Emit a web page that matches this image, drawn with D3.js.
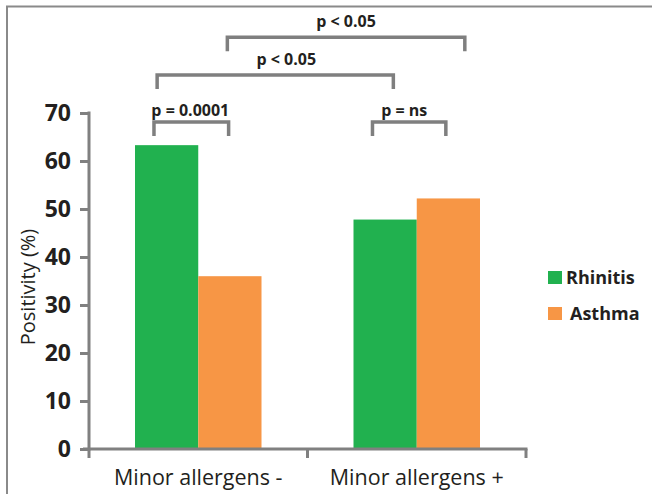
<!DOCTYPE html>
<html>
<head>
<meta charset="utf-8">
<script src="https://cdn.jsdelivr.net/npm/d3@7/dist/d3.min.js"></script>
<style>
  html, body { margin: 0; padding: 0; background: #fff; }
  svg { display: block; }
  text { font-family: "Open Sans", "Noto Sans", sans-serif; fill: #231f20; }
</style>
</head>
<body>
<svg id="chart" width="652" height="494"></svg>
<script>
// ---- data ----
const categories = ["Minor allergens -", "Minor allergens +"];
const seriesNames = ["Rhinitis", "Asthma"];
const rhinitis = [63.3, 47.8];
const asthma = [36.0, 52.2];
const yTicks = [0, 10, 20, 30, 40, 50, 60, 70];
const yLabel = "Positivity (%)";
// significance brackets: [category index, series index, fraction across bar]
const bracketLabels = ["p = 0.0001", "p = ns", "p < 0.05", "p < 0.05"];
const bracketFrom = [[0, 0, 0.3], [1, 0, 0.3], [0, 0, 0.35], [0, 1, 0.46]];
const bracketTo = [[0, 1, 0.48], [1, 1, 0.46], [1, 0, 0.63], [1, 1, 0.76]];
const bracketLevel = [68.1, 68.1, 77.9, 85.8];

const colors = { Rhinitis: "#21b14f", Asthma: "#f79645" };
const gray = "#808080";
const labelDx = [-1, -5, 11, 0];

const svg = d3.select("#chart");

// frame
svg.append("path")
  .attr("d", "M7,494 V6.5 H652")
  .attr("fill", "none").attr("stroke", "#8a8a8a").attr("stroke-width", 2);

const y = d3.scaleLinear().domain([0, 70]).range([449, 113]);
const x0 = d3.scaleBand().domain(categories).range([89, 526]).padding(0);
const x1 = d3.scaleBand().domain(seriesNames).range([46, x0.bandwidth() - 46]).padding(0);

const values = { Rhinitis: rhinitis, Asthma: asthma };

// bars
const g = svg.append("g");
categories.forEach((c, i) => {
  seriesNames.forEach(s => {
    const v = values[s][i];
    g.append("rect")
      .attr("x", x0(c) + x1(s))
      .attr("y", y(v))
      .attr("width", x1.bandwidth())
      .attr("height", y(0) - y(v))
      .attr("fill", colors[s]);
  });
});

// y axis
const yAxis = svg.append("g").attr("transform", "translate(89,0)")
  .call(d3.axisLeft(y).tickValues(yTicks).tickSize(9).tickSizeOuter(0).tickPadding(9));
yAxis.select(".domain").attr("stroke", gray).attr("stroke-width", 3)
  .attr("d", `M0,${y(70) - 1.5}V${y(0) + 1.5}`);
yAxis.selectAll(".tick line").attr("stroke", gray).attr("stroke-width", 3);
yAxis.selectAll(".tick text")
  .attr("font-size", 23).attr("font-weight", 700)
  .attr("fill", "#231f20").attr("font-family", "'Open Sans', sans-serif");

// x axis
const xAxisG = svg.append("g").attr("transform", `translate(0,${y(0)})`);
xAxisG.append("line")
  .attr("x1", 83).attr("x2", x0.range()[1] + 1.5)
  .attr("stroke", gray).attr("stroke-width", 3);
const boundaries = categories.map(c => x0(c)).concat([x0.range()[1]]);
xAxisG.selectAll("line.tk").data(boundaries).enter().append("line")
  .attr("class", "tk")
  .attr("x1", d => d).attr("x2", d => d)
  .attr("y1", 0).attr("y2", 9)
  .attr("stroke", gray).attr("stroke-width", 3);
xAxisG.selectAll("text.cat").data(categories).enter().append("text")
  .attr("class", "cat")
  .attr("x", d => x0(d) + x0.bandwidth() / 2)
  .attr("y", 36)
  .attr("text-anchor", "middle")
  .attr("font-size", 21.5)
  .text(d => d);

// y label
svg.append("text")
  .attr("transform", `translate(35,287) rotate(-90)`)
  .attr("text-anchor", "middle")
  .attr("font-size", 20)
  .text(yLabel);

// brackets
const bx = ([ci, si, f]) => x0(categories[ci]) + x1(seriesNames[si]) + f * x1.bandwidth();
const legLen = 14;
bracketLabels.forEach((lab, i) => {
  const xa = bx(bracketFrom[i]), xb = bx(bracketTo[i]);
  const yl = y(bracketLevel[i]);
  svg.append("path")
    .attr("d", `M${xa},${yl + legLen}V${yl}H${xb}V${yl + legLen}`)
    .attr("fill", "none").attr("stroke", "#7f7f7f").attr("stroke-width", 3.5);
  svg.append("text")
    .attr("x", (xa + xb) / 2 + labelDx[i])
    .attr("y", yl - (i < 2 ? 6 : 10))
    .attr("text-anchor", "middle")
    .attr("font-size", 16).attr("font-weight", 700)
    .text(lab);
});

// legend
const leg = svg.append("g");
seriesNames.forEach((s, i) => {
  const ly = 271 + i * 36;
  leg.append("rect").attr("x", 548).attr("y", ly).attr("width", 14).attr("height", 13)
    .attr("fill", colors[s]);
  leg.append("text").attr("x", i === 0 ? 566 : 570).attr("y", ly + 13)
    .attr("font-size", 18).attr("font-weight", 700).text(s);
});
</script>
</body>
</html>
